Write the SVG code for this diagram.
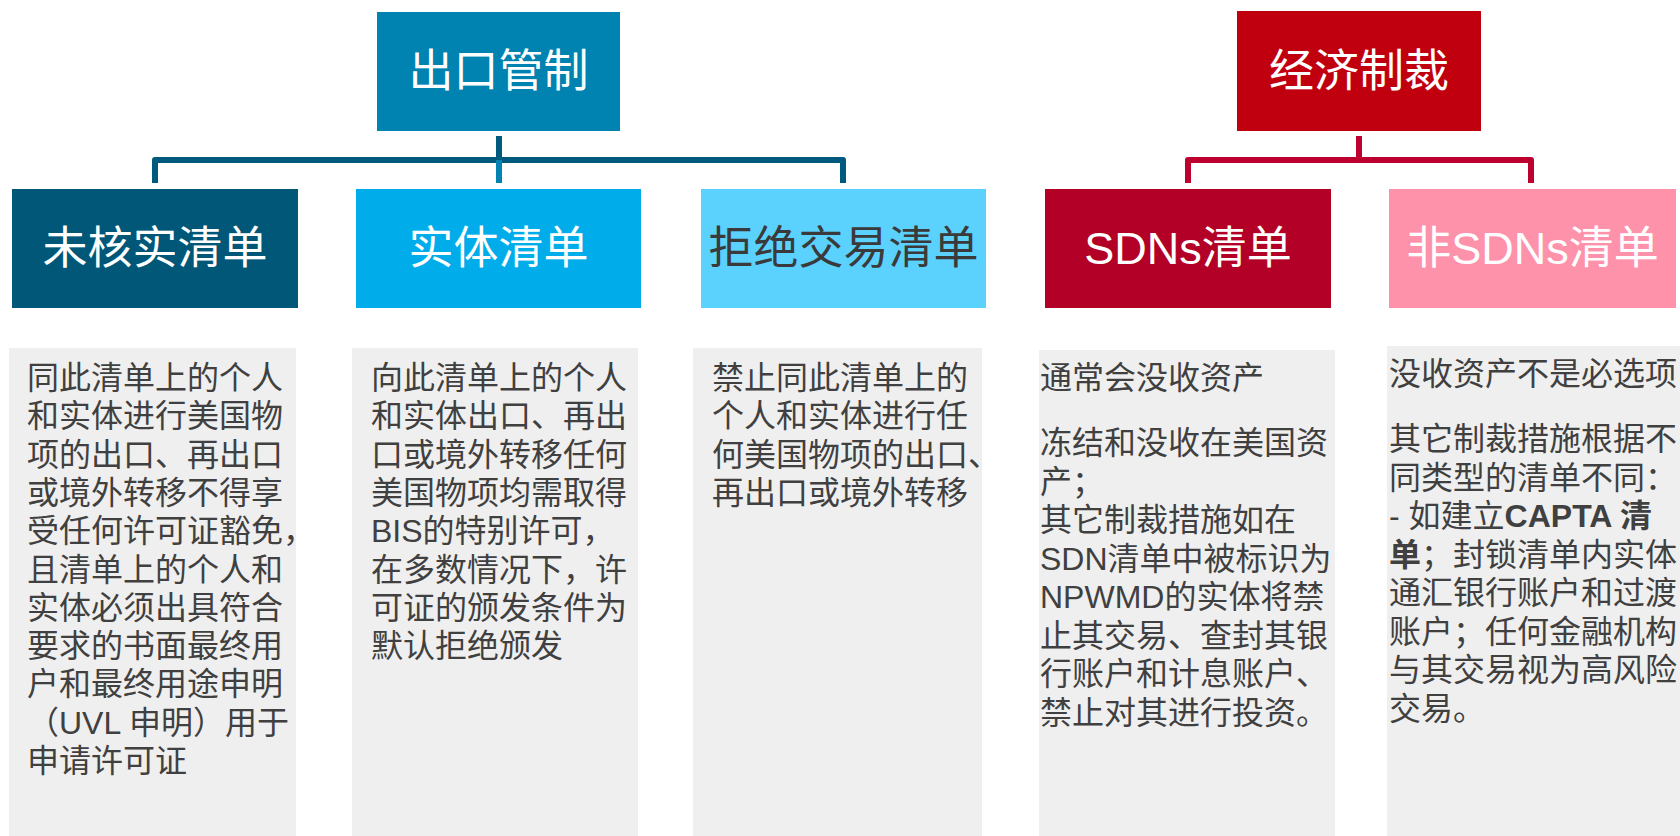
<svg xmlns="http://www.w3.org/2000/svg" width="1680" height="836" viewBox="0 0 1680 836">
<style>
.hd{font-family:"Liberation Sans","Noto Sans CJK SC",sans-serif;font-size:45px;text-anchor:middle;fill:#ffffff}
.dk{fill:#3a3a3a}
.bd{font-family:"Liberation Sans","Noto Sans CJK SC",sans-serif;font-size:32px;fill:#404040}
.b{font-weight:bold}
.gray{fill:#efefef}
.cl{fill:none;stroke:#005a7e;stroke-width:6;stroke-linejoin:round}
.cr{fill:none;stroke:#be0030;stroke-width:6;stroke-linejoin:round}
</style>
<rect width="1680" height="836" fill="#ffffff"/>
<g id="connectors">
<path class="cl" d="M155,183 V160 H843 V183"/>
<path class="cl" d="M499,136 V160"/>
<path d="M499,160 V183" fill="none" stroke="#0083b1" stroke-width="6"/>
<path class="cr" d="M1188,183 V160 H1531 V183"/>
<path class="cr" d="M1359,136 V160"/>
</g>
<g id="export-control">
<rect x="377" y="12" width="243" height="119" fill="#0083b1"/>
<text class="hd" x="498.5" y="87">出口管制</text>
</g>
<g id="sanctions">
<rect x="1237" y="11" width="244" height="120" fill="#c1000f"/>
<text class="hd" x="1359" y="87">经济制裁</text>
</g>
<g id="unverified-list">
<rect x="12" y="189" width="286" height="119" fill="#005778"/>
<text class="hd" x="155" y="264">未核实清单</text>
</g>
<g id="entity-list">
<rect x="356" y="189" width="285" height="119" fill="#00adea"/>
<text class="hd" x="498.5" y="264">实体清单</text>
</g>
<g id="denied-list">
<rect x="701" y="189" width="285" height="119" fill="#5bd1fd"/>
<text class="hd dk" x="843.5" y="264">拒绝交易清单</text>
</g>
<g id="sdn-list">
<rect x="1045" y="189" width="286" height="119" fill="#b30026"/>
<text class="hd" x="1188" y="264">SDNs清单</text>
</g>
<g id="non-sdn-list">
<rect x="1389" y="189" width="287" height="119" fill="#ff92ab"/>
<text class="hd" x="1532.5" y="264">非SDNs清单</text>
</g>
<g id="desc-unverified">
<rect class="gray" x="9" y="348" width="287" height="488"/>
<text class="bd">
<tspan x="27" y="389">同此清单上的个人</tspan>
<tspan x="27" y="427.3">和实体进行美国物</tspan>
<tspan x="27" y="465.6">项的出口、再出口</tspan>
<tspan x="27" y="503.9">或境外转移不得享</tspan>
<tspan x="27" y="542.2">受任何许可证豁免，</tspan>
<tspan x="27" y="580.5">且清单上的个人和</tspan>
<tspan x="27" y="618.8">实体必须出具符合</tspan>
<tspan x="27" y="657.1">要求的书面最终用</tspan>
<tspan x="27" y="695.4">户和最终用途申明</tspan>
<tspan x="27" y="733.7">（UVL 申明）用于</tspan>
<tspan x="27" y="772">申请许可证</tspan>
</text>
</g>
<g id="desc-entity">
<rect class="gray" x="352" y="348" width="286" height="488"/>
<text class="bd">
<tspan x="371" y="389">向此清单上的个人</tspan>
<tspan x="371" y="427.3">和实体出口、再出</tspan>
<tspan x="371" y="465.6">口或境外转移任何</tspan>
<tspan x="371" y="503.9">美国物项均需取得</tspan>
<tspan x="371" y="542.2">BIS的特别许可，</tspan>
<tspan x="371" y="580.5">在多数情况下，许</tspan>
<tspan x="371" y="618.8">可证的颁发条件为</tspan>
<tspan x="371" y="657.1">默认拒绝颁发</tspan>
</text>
</g>
<g id="desc-denied">
<rect class="gray" x="693" y="348" width="289" height="488"/>
<text class="bd">
<tspan x="712" y="389">禁止同此清单上的</tspan>
<tspan x="712" y="427.3">个人和实体进行任</tspan>
<tspan x="712" y="465.6">何美国物项的出口、</tspan>
<tspan x="712" y="503.9">再出口或境外转移</tspan>
</text>
</g>
<g id="desc-sdn">
<rect class="gray" x="1039" y="350" width="296" height="486"/>
<text class="bd">
<tspan x="1040" y="389">通常会没收资产</tspan>
<tspan x="1040" y="454">冻结和没收在美国资</tspan>
<tspan x="1040" y="492.5">产；</tspan>
<tspan x="1040" y="531">其它制裁措施如在</tspan>
<tspan x="1040" y="569.5">SDN清单中被标识为</tspan>
<tspan x="1040" y="608">NPWMD的实体将禁</tspan>
<tspan x="1040" y="646.5">止其交易、查封其银</tspan>
<tspan x="1040" y="685">行账户和计息账户、</tspan>
<tspan x="1040" y="723.5">禁止对其进行投资。</tspan>
</text>
</g>
<g id="desc-non-sdn">
<rect class="gray" x="1387" y="346" width="293" height="490"/>
<text class="bd">
<tspan x="1389" y="385">没收资产不是必选项</tspan>
<tspan x="1389" y="450">其它制裁措施根据不</tspan>
<tspan x="1389" y="488.5">同类型的清单不同：</tspan>
<tspan x="1389" y="527">- 如建立<tspan class="b">CAPTA 清</tspan></tspan>
<tspan x="1389" y="565.5"><tspan class="b">单</tspan>；封锁清单内实体</tspan>
<tspan x="1389" y="604">通汇银行账户和过渡</tspan>
<tspan x="1389" y="642.5">账户；任何金融机构</tspan>
<tspan x="1389" y="681">与其交易视为高风险</tspan>
<tspan x="1389" y="719.5">交易。</tspan>
</text>
</g>
</svg>
